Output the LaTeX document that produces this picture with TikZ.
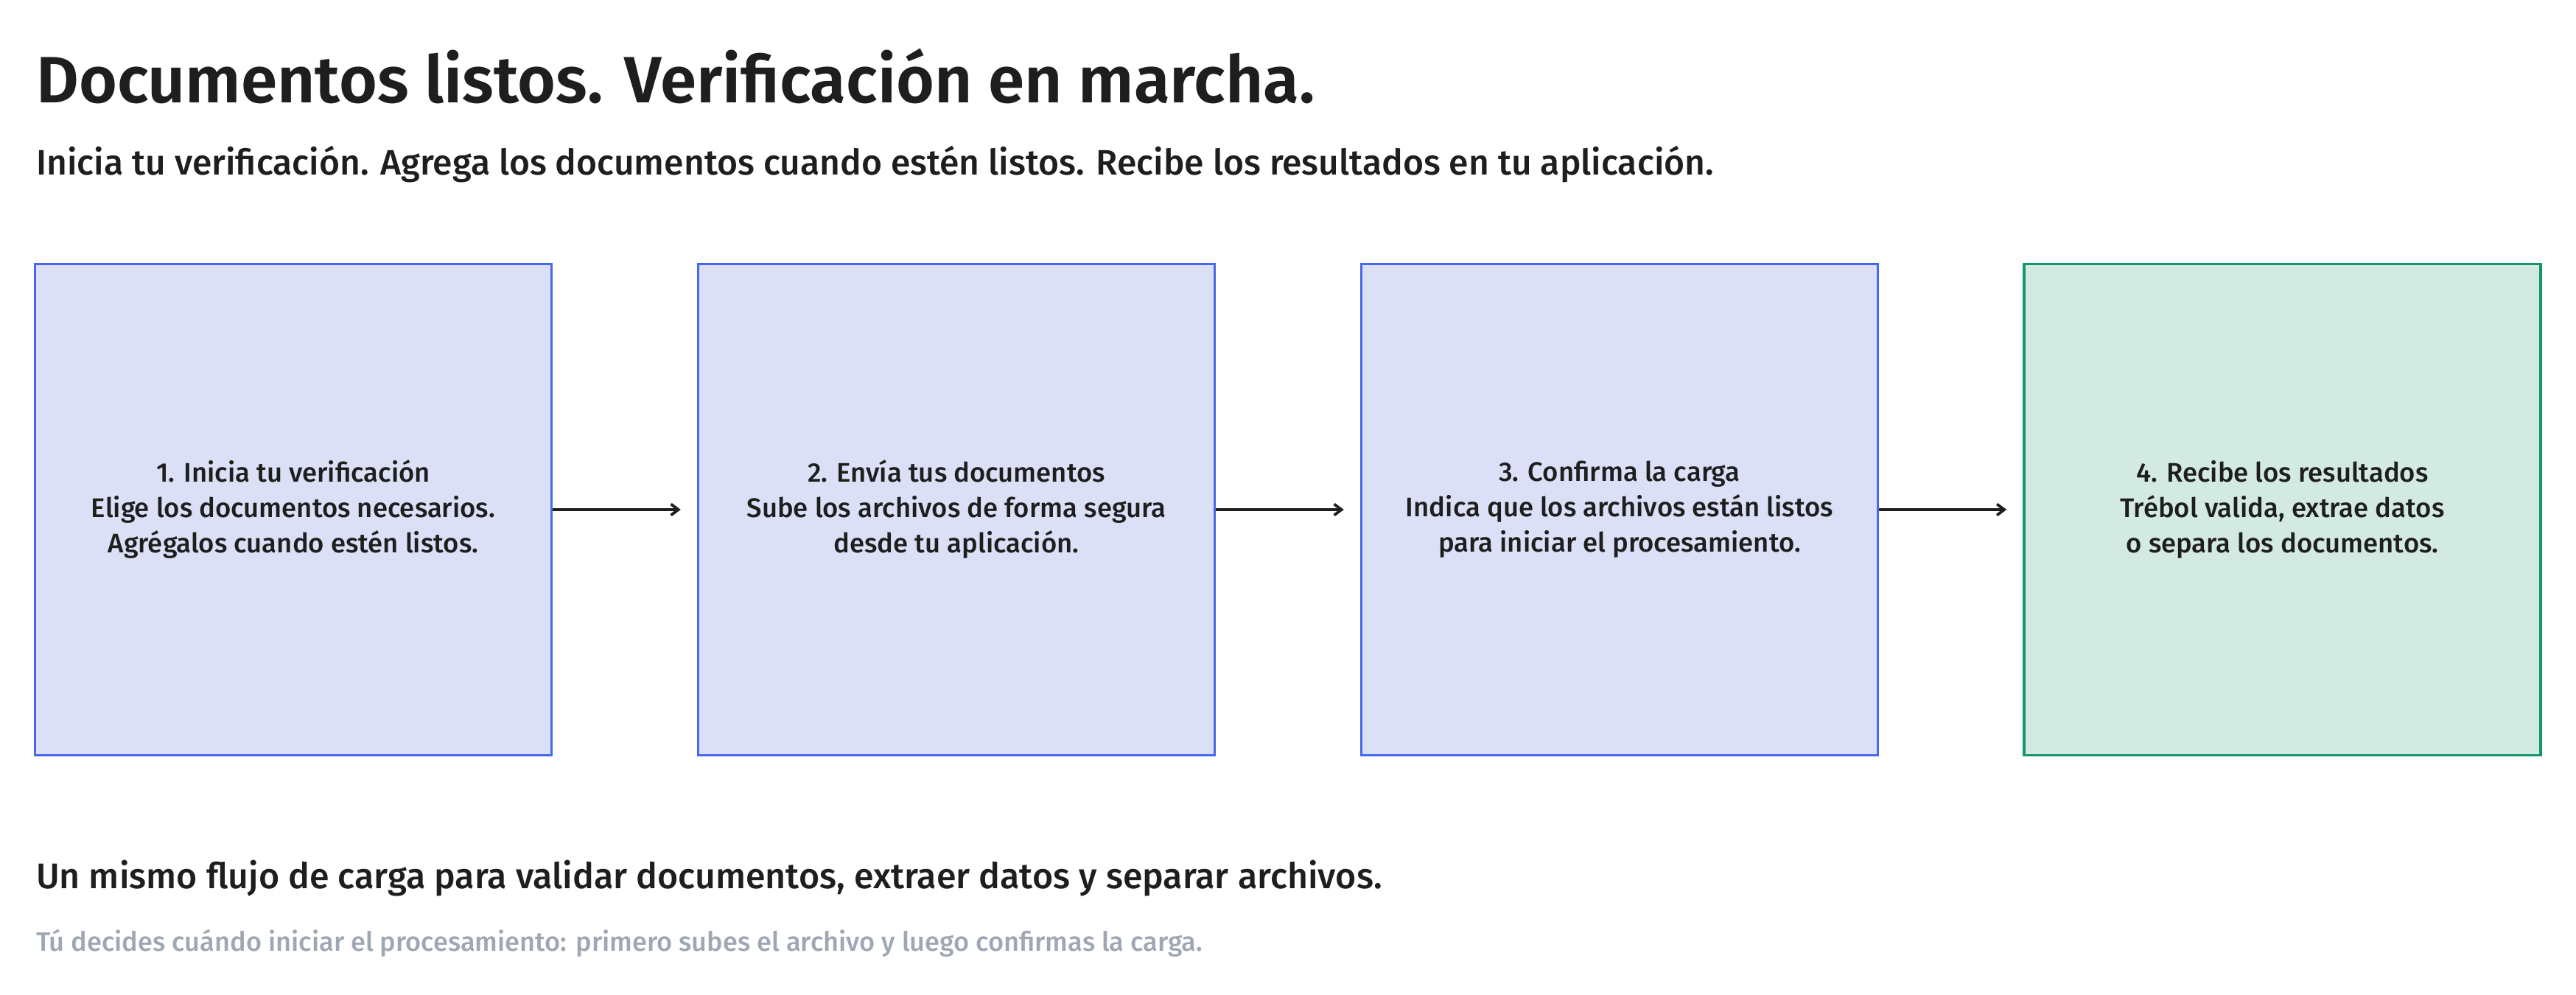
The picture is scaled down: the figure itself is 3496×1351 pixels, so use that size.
\documentclass[tikz,border=0pt]{standalone}
\usepackage{fontspec}
\setmainfont{Fira Sans}
\newfontfamily\titlefont{Fira Sans SemiBold}
\newfontfamily\medfont{Fira Sans Medium}
\usetikzlibrary{arrows.meta}
\definecolor{ink}{HTML}{1E1E1E}
\definecolor{bluefill}{HTML}{DCE0F7}
\definecolor{blueline}{HTML}{4866EE}
\definecolor{greenfill}{HTML}{D3EAE3}
\definecolor{greenline}{HTML}{13966A}
\definecolor{muted}{HTML}{9FA7B5}
\tikzset{
  stepbox/.style={draw=blueline, fill=bluefill, line width=3.5pt, minimum width=701pt, minimum height=667pt, inner sep=0pt, align=center, text=ink, font=\medfont\fontsize{36.5}{48}\selectfont},
  donebox/.style={stepbox, draw=greenline, fill=greenfill},
  flowarrow/.style={draw=ink, line width=3.8pt, -{Straight Barb[length=10pt,width=15pt]}, shorten >=22pt},
  txt/.style={anchor=base west, inner sep=0pt, text=ink}
}
\begin{document}
\begin{tikzpicture}[x=1pt,y=-1pt]
\useasboundingbox[fill=white] (0,0) rectangle (3496,1351);
\node[txt, font=\titlefont\fontsize{89}{100}\selectfont] (title) at (49,140) {Documentos listos. Verificación en marcha.};
\node[txt, font=\medfont\fontsize{48}{56}\selectfont] (sub) at (49,237) {Inicia tu verificación. Agrega los documentos cuando estén listos. Recibe los resultados en tu aplicación.};
\node[stepbox] (b1) at (398,692) {1. Inicia tu verificación\\Elige los documentos necesarios.\\Agrégalos cuando estén listos.};
\node[stepbox] (b2) at (1298,692) {2. Envía tus documentos\\Sube los archivos de forma segura\\desde tu aplicación.};
\node[stepbox] (b3) at (2198,692) {3. Confirma la carga\\Indica que los archivos están listos\\para iniciar el procesamiento.};
\node[donebox] (b4) at (3097.5,692) {4. Recibe los resultados\\Trébol valida, extrae datos\\o separa los documentos.};
\draw[flowarrow] (b1.east) -- (b2.west);
\draw[flowarrow] (b2.east) -- (b3.west);
\draw[flowarrow] (b3.east) -- (b4.west);
\node[txt, font=\medfont\fontsize{48.3}{56}\selectfont] (foot) at (49,1206) {Un mismo flujo de carga para validar documentos, extraer datos y separar archivos.};
\node[txt, text=muted, font=\medfont\fontsize{36.2}{44}\selectfont] (note) at (49,1291) {Tú decides cuándo iniciar el procesamiento: primero subes el archivo y luego confirmas la carga.};
\end{tikzpicture}
\end{document}
